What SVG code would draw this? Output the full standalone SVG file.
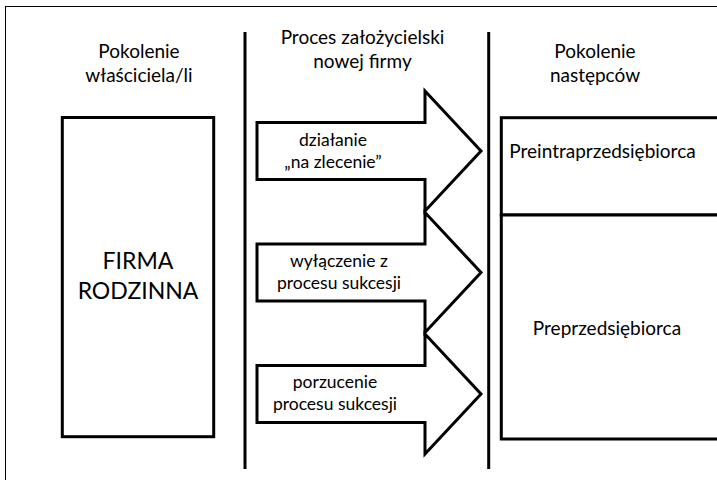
<svg xmlns="http://www.w3.org/2000/svg" width="717" height="480" viewBox="0 0 717 480">
<style>
  text { font-family: Lato, "Liberation Sans", sans-serif; fill: #000; text-anchor: middle; }
  .h { font-size: 19px; }
  .a { font-size: 17.5px; }
  .big { font-size: 23px; }
  .box { fill: #fff; stroke: #000; stroke-width: 3; }
  .arrow { fill: #fff; stroke: #000; stroke-width: 3; stroke-linejoin: miter; }
  .div { stroke: #000; stroke-width: 3; fill: none; }
</style>
<rect x="0" y="0" width="717" height="480" fill="#fff"/>
<rect x="5.5" y="6.5" width="720" height="480" fill="none" stroke="#000" stroke-width="1"/>

<g id="dividers">
  <line class="div" x1="245" y1="32" x2="245" y2="469"/>
  <line class="div" x1="488.7" y1="32" x2="488.7" y2="469"/>
</g>

<g id="headers">
  <text class="h" x="139" y="58">Pokolenie</text>
  <text class="h" x="139" y="82">właściciela/li</text>
  <text class="h" x="362.5" y="44">Proces założycielski</text>
  <text class="h" x="362.5" y="68">nowej firmy</text>
  <text class="h" x="595" y="58">Pokolenie</text>
  <text class="h" x="595" y="82">następców</text>
</g>

<g id="firma-rodzinna">
  <rect class="box" x="62.3" y="117.5" width="151.4" height="319.2"/>
  <text class="big" x="138" y="269">FIRMA</text>
  <text class="big" x="138" y="299">RODZINNA</text>
</g>

<g id="preintraprzedsiebiorca">
  <rect class="box" x="501.3" y="117.7" width="240" height="97.3"/>
  <text class="h" x="602.5" y="158">Preintraprzedsiębiorca</text>
</g>

<g id="preprzedsiebiorca">
  <rect class="box" x="501.3" y="215" width="240" height="224"/>
  <text class="h" x="607" y="335">Preprzedsiębiorca</text>
</g>

<g id="connectors">
  <g id="arrow-na-zlecenie">
    <polygon class="arrow" points="257,122.5 425,122.5 425,91 481,151 425,211 425,179.5 257,179.5"/>
    <text class="a" x="333" y="146">działanie</text>
    <text class="a" x="333" y="168">„na zlecenie”</text>
  </g>
  <g id="arrow-wylaczenie">
    <polygon class="arrow" points="257,244 425,244 425,212.5 481,272.5 425,332.5 425,301 257,301"/>
    <text class="a" x="339" y="267">wyłączenie z</text>
    <text class="a" x="339" y="289">procesu sukcesji</text>
  </g>
  <g id="arrow-porzucenie">
    <polygon class="arrow" points="257,365.5 425,365.5 425,334 481,394 425,454 425,422.5 257,422.5"/>
    <text class="a" x="335" y="388">porzucenie</text>
    <text class="a" x="335" y="410">procesu sukcesji</text>
  </g>
</g>
</svg>
